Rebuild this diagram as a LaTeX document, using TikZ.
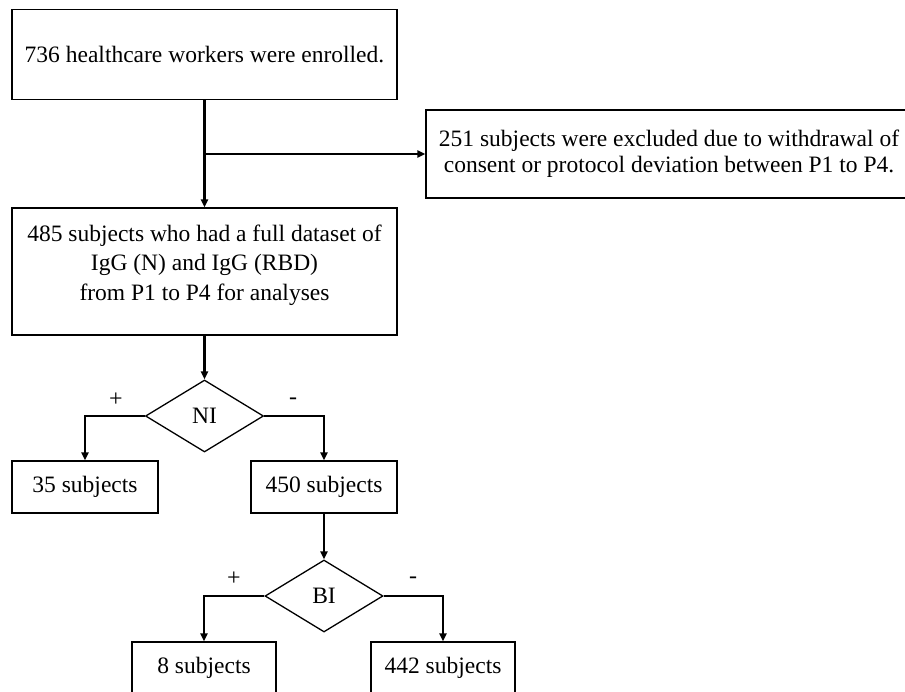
\documentclass[tikz,border=0pt]{standalone}
\usepackage{fontspec}
\setmainfont{Liberation Serif}
\usetikzlibrary{shapes.geometric,arrows.meta}
\tikzstyle{flow-box} = [draw=black, line width=1.3pt, rectangle, inner sep=0pt,
    align=center, font=\fontsize{23.5}{26}\selectfont]
\tikzstyle{flow-test} = [draw=black, line width=1.3pt, diamond, inner sep=0pt,
    minimum width=118pt, minimum height=72pt, font=\fontsize{23.5}{26}\selectfont]
\tikzstyle{flow-arrow} = [line width=2.2pt, -{Triangle[length=8pt,width=7pt]}]
\tikzstyle{flow-sign} = [inner sep=0pt, font=\fontsize{24}{26}\selectfont]

\begin{document}
\begin{tikzpicture}[x=1pt,y=-1pt]
\useasboundingbox (0,0) rectangle (905,691);
% boxes
\node[flow-box, minimum width=385pt, minimum height=90pt] (enrolled) at (204.5,54.5)
    {736 healthcare workers were enrolled.};
\node[flow-box, minimum width=500pt, minimum height=88pt] (excluded) at (676,154)
    {\hspace*{-14pt}251 subjects were excluded due to withdrawal of\\
     \hspace*{-14pt}consent or protocol deviation between P1 to P4.};
\node[flow-box, minimum width=385pt, minimum height=127pt, text depth=18pt,
    font=\fontsize{23.5}{29.5}\selectfont] (dataset) at (204.5,271.5)
    {485 subjects who had a full dataset of\\IgG (N) and IgG (RBD)\\from P1 to P4 for analyses};
\node[flow-test] (ni) at (204.5,416) {NI};
\node[flow-box, minimum width=146pt, minimum height=52pt] (ni-pos) at (85,487) {35 subjects};
\node[flow-box, minimum width=146pt, minimum height=52pt] (ni-neg) at (324,487) {450 subjects};
\node[flow-test] (bi) at (324,596) {BI};
\node[flow-box, minimum width=144pt, minimum height=52pt] (bi-pos) at (204,668) {8 subjects};
\node[flow-box, minimum width=144pt, minimum height=52pt] (bi-neg) at (443,668) {442 subjects};
% signs
\node[flow-sign] (ni-plus) at (116,400) {+};
\node[flow-sign] (ni-minus) at (293,401) {-};
\node[flow-sign] (bi-plus) at (234,579) {+};
\node[flow-sign] (bi-minus) at (413,580) {-};
% arrows
\coordinate (split) at (enrolled.south |- excluded.west);
\draw[flow-arrow] (enrolled.south) -- (dataset.north);
\draw[flow-arrow] (split) -- (excluded.west);
\draw[flow-arrow] (dataset.south) -- (ni.north);
\draw[flow-arrow] (ni.west) -| (ni-pos.north);
\draw[flow-arrow] (ni.east) -| (ni-neg.north);
\draw[flow-arrow] (ni-neg.south) -- (bi.north);
\draw[flow-arrow] (bi.west) -| (bi-pos.north);
\draw[flow-arrow] (bi.east) -| (bi-neg.north);
\end{tikzpicture}
\end{document}
